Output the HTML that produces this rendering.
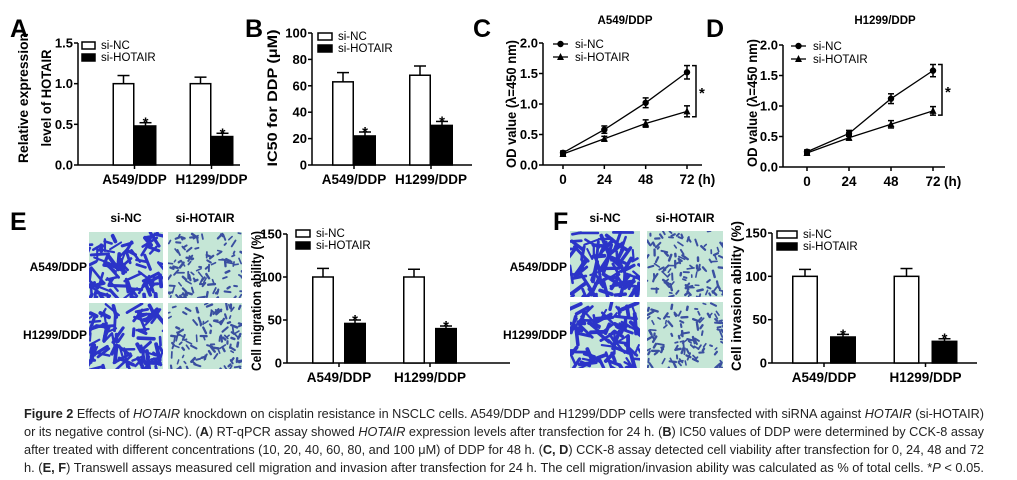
<!DOCTYPE html>
<html><head><meta charset="utf-8"><style>
html,body{margin:0;padding:0;background:#fff}
svg{display:block;font-family:"Liberation Sans",Arial,sans-serif}
</style></head><body>
<svg id="fig" width="1017" height="480" viewBox="0 0 1017 480" xmlns="http://www.w3.org/2000/svg">
<rect width="1017" height="480" fill="#fff"/>
<g id="panels"></g>
<g id="caption" font-size="13" fill="#222">
<text x="24" y="418" textLength="960" lengthAdjust="spacingAndGlyphs"><tspan font-weight="bold">Figure 2</tspan> Effects of <tspan font-style="italic">HOTAIR</tspan> knockdown on cisplatin resistance in NSCLC cells. A549/DDP and H1299/DDP cells were transfected with siRNA against <tspan font-style="italic">HOTAIR</tspan> (si-HOTAIR)</text>
<text x="24" y="436" textLength="960" lengthAdjust="spacingAndGlyphs">or its negative control (si-NC). (<tspan font-weight="bold">A</tspan>) RT-qPCR assay showed <tspan font-style="italic">HOTAIR</tspan> expression levels after transfection for 24 h. (<tspan font-weight="bold">B</tspan>) IC50 values of DDP were determined by CCK-8 assay</text>
<text x="24" y="454" textLength="960" lengthAdjust="spacingAndGlyphs">after treated with different concentrations (10, 20, 40, 60, 80, and 100 μM) of DDP for 48 h. (<tspan font-weight="bold">C, D</tspan>) CCK-8 assay detected cell viability after transfection for 0, 24, 48 and 72</text>
<text x="24" y="472" textLength="960" lengthAdjust="spacingAndGlyphs">h. (<tspan font-weight="bold">E, F</tspan>) Transwell assays measured cell migration and invasion after transfection for 24 h. The cell migration/invasion ability was calculated as % of total cells. *<tspan font-style="italic">P</tspan> &lt; 0.05.</text>
</g>
</svg>
<script>
// ---------- data ----------
const groups = ["A549/DDP", "H1299/DDP"];
const seriesNames = ["si-NC", "si-HOTAIR"];
const aNC = [1.0, 1.0], aNCerr = [0.1, 0.08];
const aHO = [0.48, 0.35], aHOerr = [0.04, 0.04];
const aTicks = ["0.0", "0.5", "1.0", "1.5"];
const bNC = [63, 68], bNCerr = [7, 7];
const bHO = [22, 30], bHOerr = [3, 3];
const bTicks = ["0", "20", "40", "60", "80", "100"];
const timePoints = [0, 24, 48, 72];
const cNC = [0.2, 0.58, 1.02, 1.52], cNCerr = [0.03, 0.06, 0.08, 0.11];
const cHO = [0.18, 0.43, 0.68, 0.88], cHOerr = [0.03, 0.04, 0.06, 0.09];
const dNC = [0.25, 0.55, 1.12, 1.58], dNCerr = [0.03, 0.05, 0.08, 0.1];
const dHO = [0.23, 0.48, 0.7, 0.92], dHOerr = [0.03, 0.04, 0.06, 0.07];
const odTicks = ["0.0", "0.5", "1.0", "1.5", "2.0"];
const eNC = [100, 100], eNCerr = [10, 9];
const eHO = [46, 40], eHOerr = [4, 3];
const fNC = [100, 100], fNCerr = [8, 9];
const fHO = [30, 25], fHOerr = [3, 3];
const pctTicks = ["0", "50", "100", "150"];

const NS = "http://www.w3.org/2000/svg";
const root = document.getElementById("panels");
function mk(tag, attrs, parent, txt) {
  const e = document.createElementNS(NS, tag);
  for (const k in attrs) e.setAttribute(k, attrs[k]);
  if (txt !== undefined) e.textContent = txt;
  (parent || root).appendChild(e);
  return e;
}
function letter(ch, x, y) {
  const t = mk("text", {x: x, y: y, "font-size": 25, "font-weight": "bold"}, root, ch);
  
  
}
// x = baseline position (glyphs extend to the left of x)
function yTitle(text, x, cy, len) {
  const t = mk("text", {x: -len / 2, y: 0, "font-size": 14, "font-weight": "bold",
    textLength: len, lengthAdjust: "spacingAndGlyphs",
    transform: "translate(" + x + "," + cy + ") rotate(-90)"}, root, text);
  
  
}
function yAxis(g, ax, yTop, yBot, ticks, maxV) {
  const sy = v => yBot - (v / maxV) * (yBot - yTop);
  const line = mk("line", {x1: ax, x2: ax, y1: yTop, y2: yBot, stroke: "#000", "stroke-width": 1.5}, g);
  
  
  ticks.forEach(t => {
    const y = sy(parseFloat(t));
    mk("line", {x1: ax - 4, x2: ax, y1: y, y2: y, stroke: "#000", "stroke-width": 1.5}, g);
    const tx = mk("text", {x: ax - 5, y: y + 4.5, "font-size": 13, "font-weight": "bold", "text-anchor": "end"}, g, t);
    
    
  });
  return sy;
}
function barLegend(g, x, y, w) {
  seriesNames.forEach((n, i) => {
    const r = mk("rect", {x: x, y: y + i * 12, width: w, height: 7, fill: i ? "#000" : "#fff", stroke: "#000", "stroke-width": 1.5}, g);
    
    
    const t = mk("text", {x: x + w + 6, y: y + i * 12 + 7, "font-size": 11.5}, g, n);
    
    
  });
}
function barChart(o) {
  const g = mk("g", {});
  
  
  const sy = yAxis(g, o.ax, o.yTop, o.yBot, o.ticks, o.max);
  const xa = mk("line", {x1: o.ax, x2: o.xEnd, y1: o.yBot, y2: o.yBot, stroke: "#000", "stroke-width": 1.5}, g);
  
  
  const sets = [[o.nc, o.ncErr], [o.ho, o.hoErr]];
  groups.forEach((grp, gi) => {
    const c = o.g0 + gi * o.step;
    mk("line", {x1: c, x2: c, y1: o.yBot, y2: o.yBot + 4, stroke: "#000", "stroke-width": 1.5}, g);
    const lab = mk("text", {x: c, y: o.yBot + 19, "font-size": 13.5, "font-weight": "bold", "text-anchor": "middle"}, g, grp);
    
    
    sets.forEach((s, si) => {
      const v = s[0][gi], e = s[1][gi];
      const x = si ? c + o.gap / 2 : c - o.gap / 2 - o.bw;
      const cx = x + o.bw / 2;
      mk("line", {x1: cx, x2: cx, y1: sy(v), y2: sy(v + e), stroke: "#000", "stroke-width": 1.5}, g);
      mk("line", {x1: cx - 6, x2: cx + 6, y1: sy(v + e), y2: sy(v + e), stroke: "#000", "stroke-width": 1.5}, g);
      const r = mk("rect", {x: x + 0.75, y: sy(v), width: o.bw - 1.5, height: o.yBot - sy(v), fill: si ? "#000" : "#fff", stroke: "#000", "stroke-width": 1.5}, g);
      
      
      if (si) {
        const st = mk("text", {x: cx, y: sy(v + e) + 5, "font-size": 15, "font-weight": "bold", "text-anchor": "middle"}, g, "*");
        
        
      }
    });
  });
  barLegend(g, o.lx, o.ly, o.lw);
}
function lineChart(o) {
  const g = mk("g", {});
  
  
  const sy = yAxis(g, o.ax, o.yTop, o.yBot, odTicks, 2);
  const sx = t => o.x0 + (t / 72) * (o.x72 - o.x0);
  const xa = mk("line", {x1: o.ax, x2: o.xEnd, y1: o.yBot, y2: o.yBot, stroke: "#000", "stroke-width": 1.5}, g);
  
  
  timePoints.forEach((t, i) => {
    mk("line", {x1: sx(t), x2: sx(t), y1: o.yBot, y2: o.yBot + 4, stroke: "#000", "stroke-width": 1.5}, g);
    const lab = mk("text", {x: sx(t), y: o.yBot + 19, "font-size": 13.5, "font-weight": "bold", "text-anchor": "middle"}, g, String(t));
    
    
  });
  mk("text", {x: sx(72) + 11, y: o.yBot + 19, "font-size": 13.5, "font-weight": "bold"}, g, "(h)");
  const tt = mk("text", {x: o.titleX, y: 24, "font-size": 11.5, "font-weight": "bold", "text-anchor": "middle"}, g, o.title);
  
  
  const marker = (si, x, y) => si
    ? mk("polygon", {points: (x - 3.5) + "," + (y + 3) + " " + (x + 3.5) + "," + (y + 3) + " " + x + "," + (y - 4)}, g)
    : mk("circle", {cx: x, cy: y, r: 3.2}, g);
  [[o.nc, o.ncErr], [o.ho, o.hoErr]].forEach((s, si) => {
    const pts = timePoints.map((t, i) => sx(t) + "," + sy(s[0][i])).join(" ");
    const pl = mk("polyline", {points: pts, fill: "none", stroke: "#000", "stroke-width": 1.3}, g);
    
    
    timePoints.forEach((t, i) => {
      const x = sx(t), v = s[0][i], e = s[1][i];
      mk("line", {x1: x, x2: x, y1: sy(v - e), y2: sy(v + e), stroke: "#000", "stroke-width": 1.5}, g);
      mk("line", {x1: x - 3, x2: x + 3, y1: sy(v - e), y2: sy(v - e), stroke: "#000", "stroke-width": 1.5}, g);
      mk("line", {x1: x - 3, x2: x + 3, y1: sy(v + e), y2: sy(v + e), stroke: "#000", "stroke-width": 1.5}, g);
      const m = marker(si, x, sy(v));
      
      
    });
  });
  const bx = sx(72) + 9, y1 = sy(o.nc[3] + o.ncErr[3]), y2 = sy(o.ho[3] - o.hoErr[3]);
  const br = mk("polyline", {points: (bx - 4) + "," + y1 + " " + bx + "," + y1 + " " + bx + "," + y2 + " " + (bx - 4) + "," + y2, fill: "none", stroke: "#000", "stroke-width": 1.5}, g);
  
  
  mk("text", {x: bx + 3, y: (y1 + y2) / 2 + 7, "font-size": 15, "font-weight": "bold"}, g, "*");
  seriesNames.forEach((n, i) => {
    const ly = o.yTop + 1 + i * 13;
    mk("line", {x1: o.lx, x2: o.lx + 15, y1: ly, y2: ly, stroke: "#000", "stroke-width": 1.3}, g);
    marker(i, o.lx + 7.5, ly);
    const t = mk("text", {x: o.lx + 22, y: ly + 4, "font-size": 11.5}, g, n);
    
    
  });
}
// micrograph texture (deterministic)
function micro(x, y, w, h, dense, name) {
  const g = mk("g", {});
  
  
  const cid = "c" + Math.round(x) + "_" + Math.round(y);
  const cp = mk("clipPath", {id: cid}, g);
  mk("rect", {x: x, y: y, width: w, height: h}, cp);
  const inner = mk("g", {"clip-path": "url(#" + cid + ")"}, g);
  mk("rect", {x: x, y: y, width: w, height: h, fill: "#c5e6d6"}, inner);
  let s = Math.round(x * 7 + y * 13) + 1;
  const rnd = () => { s = (s * 16807) % 2147483647; return s / 2147483647; };
  const n = dense ? 90 : 110;
  for (let i = 0; i < n; i++) {
    const px = x + rnd() * w, py = y + rnd() * h;
    const len = dense ? 6 + rnd() * 14 : 2 + rnd() * 5;
    const a = rnd() * Math.PI;
    mk("line", {x1: px, y1: py, x2: px + Math.cos(a) * len, y2: py + Math.sin(a) * len,
      stroke: dense ? "#2b34c8" : "#3a4fa0", "stroke-width": dense ? 2 + rnd() * 2 : 1.5 + rnd(), "stroke-linecap": "round"}, inner);
  }
}
function microPanel(cols, rowsY, h, colLabelY, rowLabelX, labelYs, pfx) {
  ["si-NC", "si-HOTAIR"].forEach((c, ci) => {
    const t = mk("text", {x: cols[ci][0] + cols[ci][1] / 2, y: colLabelY, "font-size": 12, "font-weight": "bold", "text-anchor": "middle"}, root, c);
    
    
    rowsY.forEach((ry, ri) => micro(cols[ci][0], ry, cols[ci][1], h, ci === 0, pfx + '-micrograph-' + c + '-' + groups[ri]));
  });
  groups.forEach((gname, ri) => {
    const t = mk("text", {x: rowLabelX, y: labelYs[ri], "font-size": 12, "font-weight": "bold", "text-anchor": "end"}, root, gname);
    
    
  });
}

// ---------- panels ----------
letter("A", 10, 37);
yTitle("Relative expression", 28, 98, 130);
yTitle("level of HOTAIR", 51, 98, 97);
barChart({name: "panel-a-chart", ax: 78, xEnd: 240, yTop: 43, yBot: 165, max: 1.5, ticks: aTicks,
  nc: aNC, ncErr: aNCerr, ho: aHO, hoErr: aHOerr, g0: 134.5, step: 77, bw: 22, gap: 0, lx: 82, ly: 42, lw: 13});
letter("B", 245, 37);
yTitle("IC50 for DDP (μM)", 277, 98, 137);
barChart({name: "panel-b-chart", ax: 312, xEnd: 472, yTop: 33, yBot: 165, max: 100, ticks: bTicks,
  nc: bNC, ncErr: bNCerr, ho: bHO, hoErr: bHOerr, g0: 354, step: 77, bw: 22, gap: 0, lx: 318, ly: 33, lw: 14});
letter("C", 473, 37);
yTitle("OD value (λ=450 nm)", 516, 104, 128);
lineChart({name: "panel-c-chart", ax: 543, xEnd: 702, yTop: 43, yBot: 165, x0: 563, x72: 687,
  nc: cNC, ncErr: cNCerr, ho: cHO, hoErr: cHOerr, title: "A549/DDP", titleX: 625, lx: 553});
letter("D", 706, 37);
yTitle("OD value (λ=450 nm)", 757, 103, 128);
lineChart({name: "panel-d-chart", ax: 783, xEnd: 945, yTop: 45, yBot: 167, x0: 807, x72: 933,
  nc: dNC, ncErr: dNCerr, ho: dHO, hoErr: dHOerr, title: "H1299/DDP", titleX: 885, lx: 791});

letter("E", 10, 230);
microPanel([[89, 74], [168, 74]], [232, 303], 66, 222, 87, [271, 339], "panel-e");
yTitle("Cell migration ability (%)", 261, 301, 140);
barChart({name: "panel-e-chart", ax: 287, xEnd: 510, yTop: 234, yBot: 363, max: 150, ticks: pctTicks,
  nc: eNC, ncErr: eNCerr, ho: eHO, hoErr: eHOerr, g0: 339, step: 91, bw: 22, gap: 10, lx: 296, ly: 230, lw: 14});
letter("F", 553, 230);
microPanel([[570, 70], [647, 76]], [231, 302], 66, 222, 567, [271, 339], "panel-f");
yTitle("Cell invasion ability (%)", 741, 296, 150);
barChart({name: "panel-f-chart", ax: 772, xEnd: 977, yTop: 233, yBot: 363, max: 150, ticks: pctTicks,
  nc: fNC, ncErr: fNCerr, ho: fHO, hoErr: fHOerr, g0: 824, step: 101.5, bw: 26, gap: 12, lx: 777, ly: 231, lw: 20});
</script>
</body></html>
